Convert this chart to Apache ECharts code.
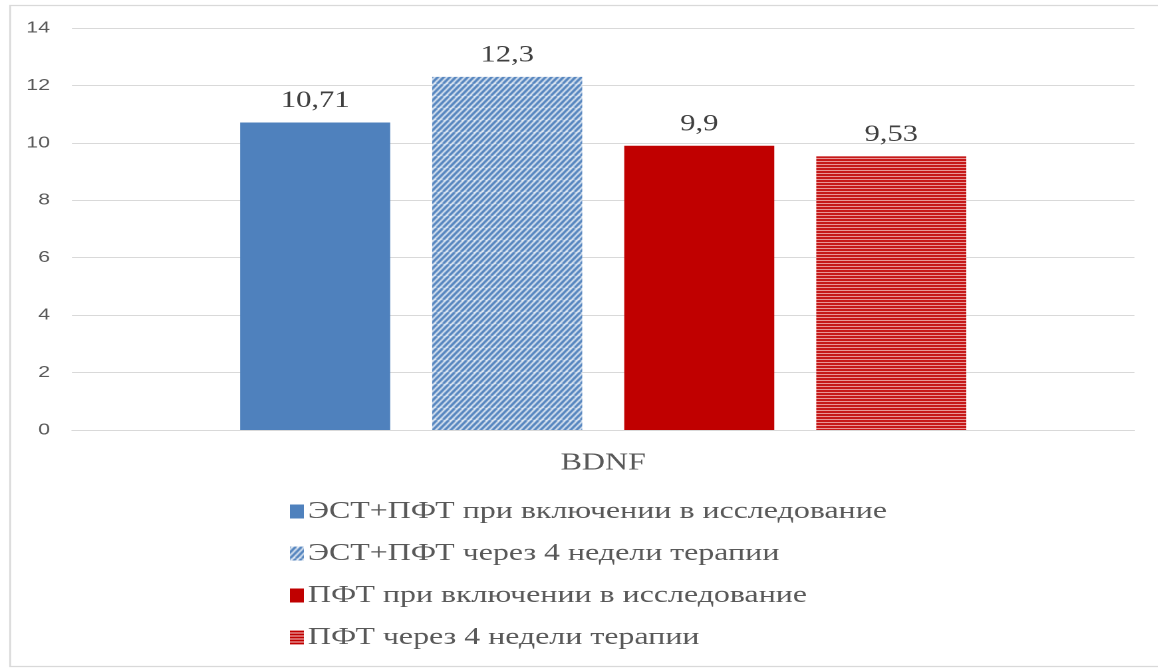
<!DOCTYPE html>
<html>
<head>
<meta charset="utf-8">
<script src="https://cdn.jsdelivr.net/npm/echarts@6/dist/echarts.min.js"></script>
<style>
  html, body { margin: 0; padding: 0; background: #fff; overflow: hidden; }
  /* The chart is laid out on a narrower box and widened horizontally,
     giving the broad, horizontally spread lettering of the figure. */
  #chart {
    width: 871.4px; height: 668px;
    transform: scaleX(1.33);
    transform-origin: 0 0;
  }
</style>
</head>
<body>
<div id="chart"></div>
<script>
// Category and series data
const categories = ['BDNF'];
const seriesNames = [
  'ЭСТ+ПФТ при включении в исследование',
  'ЭСТ+ПФТ через 4 недели терапии',
  'ПФТ при включении в исследование',
  'ПФТ через 4 недели терапии'
];
const estStart = [10.71];
const estWeek4 = [12.3];
const pftStart = [9.9];
const pftWeek4 = [9.53];
const yTicks = { min: 0, max: 14, interval: 2 };

const BLUE = '#4f81bd';
const RED = '#c00000';

// Diagonal "//" hatch tile (drawn in the narrow layout space)
function diagonalPattern(color) {
  const w = 9, h = 12;
  const c = document.createElement('canvas');
  c.width = w; c.height = h;
  const g = c.getContext('2d');
  g.fillStyle = '#ffffff';
  g.fillRect(0, 0, w, h);
  g.strokeStyle = color;
  g.lineWidth = 2.3;
  g.beginPath();
  for (let k = -1; k <= 5; k++) {
    g.moveTo(4.5 * k, 0);
    g.lineTo(4.5 * k - 9, 12);
  }
  g.stroke();
  return c;
}

// Horizontal stripe tile
function horizontalPattern(color) {
  const c = document.createElement('canvas');
  c.width = 4; c.height = 3;
  const g = c.getContext('2d');
  g.fillStyle = '#f6c9c9';
  g.fillRect(0, 0, 4, 3);
  g.fillStyle = color;
  g.fillRect(0, 0, 4, 2);
  return c;
}

const hatchBlue = { image: diagonalPattern(BLUE), repeat: 'repeat' };
const stripeRed = { image: horizontalPattern(RED), repeat: 'repeat' };

const serif = '"Liberation Serif", "Times New Roman", serif';
const fmt = p => String(p.value).replace('.', ',');

function barSeries(name, data, color) {
  return {
    name: name,
    type: 'bar',
    data: data,
    barWidth: 112.8,
    barGap: '28%',
    itemStyle: { color: color },
    label: {
      show: true,
      position: 'top',
      distance: 10,
      formatter: fmt,
      fontFamily: serif,
      fontSize: 23,
      color: '#404040'
    }
  };
}

const chart = echarts.init(document.getElementById('chart'), null, {
  renderer: 'canvas',
  devicePixelRatio: 2
});
chart.setOption({
  backgroundColor: '#ffffff',
  animation: false,
  graphic: [{
    type: 'rect',
    shape: { x: 7.6, y: 5.5, width: 880, height: 661 },
    style: { fill: 'none', stroke: '#d9d9d9', lineWidth: 1.3 },
    silent: true
  }],
  grid: { left: 54.1, right: 18, top: 28, bottom: 238 },
  xAxis: {
    type: 'category',
    data: categories,
    axisLine: { lineStyle: { color: '#d9d9d9', width: 1 } },
    axisTick: { show: false },
    axisLabel: { fontFamily: serif, fontSize: 24, color: '#595959', margin: 21 }
  },
  yAxis: {
    type: 'value',
    min: yTicks.min,
    max: yTicks.max,
    interval: yTicks.interval,
    axisLine: { show: false },
    axisTick: { show: false },
    splitLine: { lineStyle: { color: '#d9d9d9', width: 1 } },
    axisLabel: { fontFamily: '"Liberation Sans", Arial, sans-serif', fontSize: 16, color: '#595959', margin: 16.5 }
  },
  legend: {
    orient: 'vertical',
    left: 218,
    top: 499,
    padding: 0,
    itemWidth: 10.5,
    itemHeight: 14,
    itemGap: 17,
    icon: 'rect',
    textStyle: { fontFamily: serif, fontSize: 24, color: '#595959', lineHeight: 25, padding: [0, 0, 0, -2] },
    data: seriesNames
  },
  series: [
    barSeries(seriesNames[0], estStart, BLUE),
    barSeries(seriesNames[1], estWeek4, hatchBlue),
    barSeries(seriesNames[2], pftStart, RED),
    barSeries(seriesNames[3], pftWeek4, stripeRed)
  ]
});
</script>
</body>
</html>
